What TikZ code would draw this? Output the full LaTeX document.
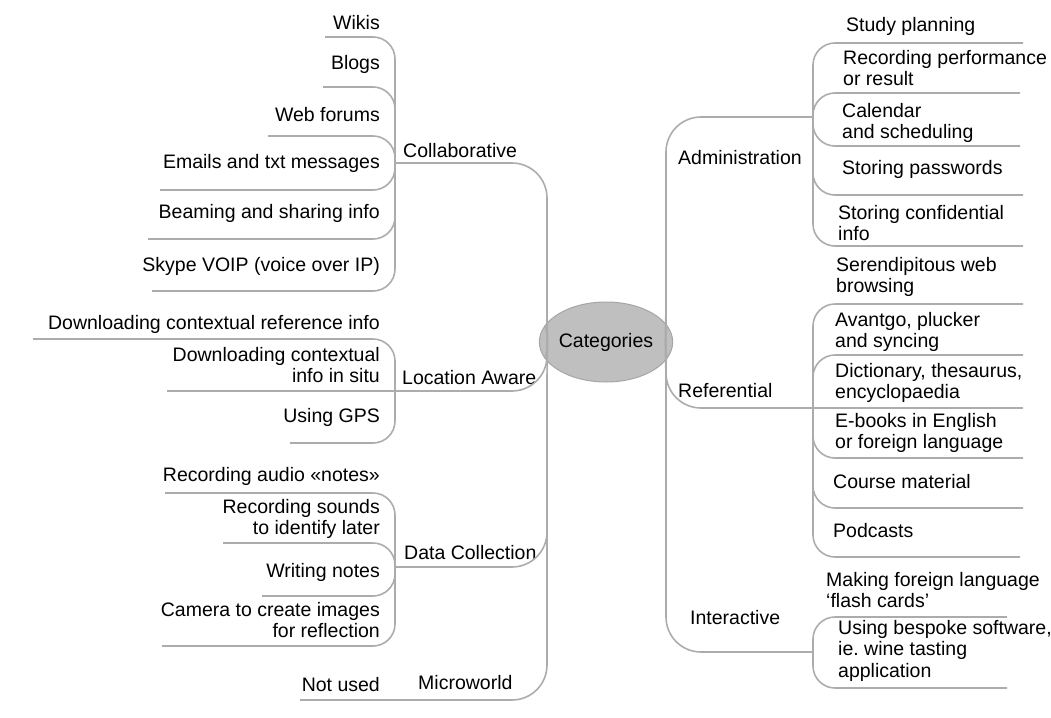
\documentclass[tikz,border=0pt]{standalone}
\usepackage{fontspec}
\setmainfont{Liberation Sans}
\usetikzlibrary{shapes.geometric}
\tikzset{
branch/.style={draw=gray!65, line width=1.6pt, rounded corners=22pt},
trunk/.style={branch, rounded corners=35pt},
hub/.style={ellipse, draw=gray!70, fill=gray!50, line width=1pt, minimum width=105pt, minimum height=80pt, inner sep=0pt},
leafl/.style={anchor=north east, align=right, inner sep=0pt},
leafr/.style={anchor=north west, align=left, inner sep=0pt},
topic/.style={anchor=north west, inner sep=0pt},
}
\begin{document}
\begin{tikzpicture}[x=1pt, y=-1pt, font=\fontsize{19.5}{21.5}\selectfont]
    \useasboundingbox (0,0) rectangle (1051,717);
    \node[hub] (cat) at (606,342) {Categories};
    % left side
    \node[topic] (collab) at (403,143) {Collaborative};
    \node[leafl] (wikis) at (380,15) {Wikis};
    \node[leafl] (blogs) at (380,55) {Blogs};
    \node[leafl] (forums) at (380,107) {Web forums};
    \node[leafl] (emails) at (380,154) {Emails and txt messages};
    \node[leafl] (beam) at (380,204) {Beaming and sharing info};
    \node[leafl] (skype) at (380,257) {Skype VOIP (voice over IP)};
    \node[topic] (loc) at (402,370) {Location Aware};
    \node[leafl] (dlref) at (380,315) {Downloading contextual reference info};
    \node[leafl] (dlsitu) at (380,347) {Downloading contextual\\info in situ};
    \node[leafl] (gps) at (380,408) {Using GPS};
    \node[topic] (data) at (404,545) {Data Collection};
    \node[leafl] (audio) at (380,467) {Recording audio «notes»};
    \node[leafl] (sounds) at (380,499) {Recording sounds\\to identify later};
    \node[leafl] (writing) at (380,563) {Writing notes};
    \node[leafl] (camera) at (380,602) {Camera to create images\\for reflection};
    \node[topic] (micro) at (418,675) {Microworld};
    \node[leafl] (notused) at (380,677) {Not used};
    % right side
    \node[topic] (admin) at (678,150) {Administration};
    \node[leafr] (study) at (846,17) {Study planning};
    \node[leafr] (perf) at (843,50) {Recording performance\\or result};
    \node[leafr] (cal) at (842,103) {Calendar\\and scheduling};
    \node[leafr] (pwd) at (842,160) {Storing passwords};
    \node[leafr] (conf) at (838,205) {Storing confidential\\info};
    \node[topic] (ref) at (678,383) {Referential};
    \node[leafr] (seren) at (836,257) {Serendipitous web\\browsing};
    \node[leafr] (avant) at (835,312) {Avantgo, plucker\\and syncing};
    \node[leafr] (dict) at (835,363) {Dictionary, thesaurus,\\encyclopaedia};
    \node[leafr] (ebook) at (835,413) {E-books in English\\or foreign language};
    \node[leafr] (course) at (833,474) {Course material};
    \node[leafr] (pod) at (833,523) {Podcasts};
    \node[topic] (inter) at (690,610) {Interactive};
    \node[leafr] (flash) at (826,572) {Making foreign language\\`flash cards'};
    \node[leafr] (bespoke) at (838,620) {Using bespoke software,\\ie.\ wine tasting\\application};
    % junctions and line ends
    \coordinate (ltop) at (547,305);
    \coordinate (lbot) at (547,380);
    \coordinate (rtop) at (666,300);
    \coordinate (rbot) at (666,385);
    \coordinate (collab-j) at (395,163);
    \coordinate (loc-j) at (395,391);
    \coordinate (data-j) at (395,567);
    \coordinate (admin-j) at (813,117);
    \coordinate (ref-j) at (813,408);
    \coordinate (inter-j) at (813,652);
    \coordinate (wikis-u) at (325,37);
    \coordinate (blogs-u) at (323,87);
    \coordinate (forums-u) at (268,136);
    \coordinate (emails-u) at (160,190);
    \coordinate (beam-u) at (148,239);
    \coordinate (skype-u) at (152,291);
    \coordinate (dlref-u) at (33,339);
    \coordinate (dlsitu-u) at (167,391);
    \coordinate (gps-u) at (290,443);
    \coordinate (audio-u) at (165,493);
    \coordinate (sounds-u) at (223,543);
    \coordinate (writing-u) at (262,596);
    \coordinate (camera-u) at (162,646);
    \coordinate (notused-u) at (300,700);
    \coordinate (study-u) at (1023,43);
    \coordinate (perf-u) at (1020,93);
    \coordinate (cal-u) at (1020,146);
    \coordinate (pwd-u) at (1023,195);
    \coordinate (conf-u) at (1023,246);
    \coordinate (seren-u) at (1023,304);
    \coordinate (avant-u) at (1023,355);
    \coordinate (dict-u) at (1023,408);
    \coordinate (ebook-u) at (1023,458);
    \coordinate (course-u) at (1023,508);
    \coordinate (pod-u) at (1020,557);
    \coordinate (flash-u) at (1007,617);
    \coordinate (bespoke-u) at (1007,688);
    % leaf lines
    \foreach \u/\j in {wikis/collab, blogs/collab, forums/collab, emails/collab, beam/collab, skype/collab,
        dlref/loc, gps/loc, audio/data, sounds/data, writing/data, camera/data,
        study/admin, perf/admin, cal/admin, pwd/admin, conf/admin,
        seren/ref, avant/ref, ebook/ref, course/ref, pod/ref, flash/inter, bespoke/inter}
        \draw[branch] (\u-u) -| (\j-j);
    \draw[branch] (dlsitu-u) -- (loc-j);
    \draw[branch] (dict-u) -- (ref-j);
    % trunks
    \draw[trunk] (collab-j) -| (ltop);
    \draw[trunk] (loc-j) -| (ltop);
    \draw[trunk] (data-j) -| (lbot);
    \draw[trunk] (notused-u) -| (lbot);
    \draw[trunk] (admin-j) -| (rtop);
    \draw[trunk] (ref-j) -| (rtop);
    \draw[trunk] (inter-j) -| (rbot);
    \draw[branch] (ltop) .. controls (547,330) and (549,350) .. (cat.195);
    \draw[branch] (lbot) .. controls (547,355) and (549,335) .. (cat.165);
    \draw[branch] (rtop) .. controls (666,325) and (664,350) .. (cat.-15);
    \draw[branch] (rbot) .. controls (666,360) and (664,335) .. (cat.15);
\end{tikzpicture}
\end{document}
